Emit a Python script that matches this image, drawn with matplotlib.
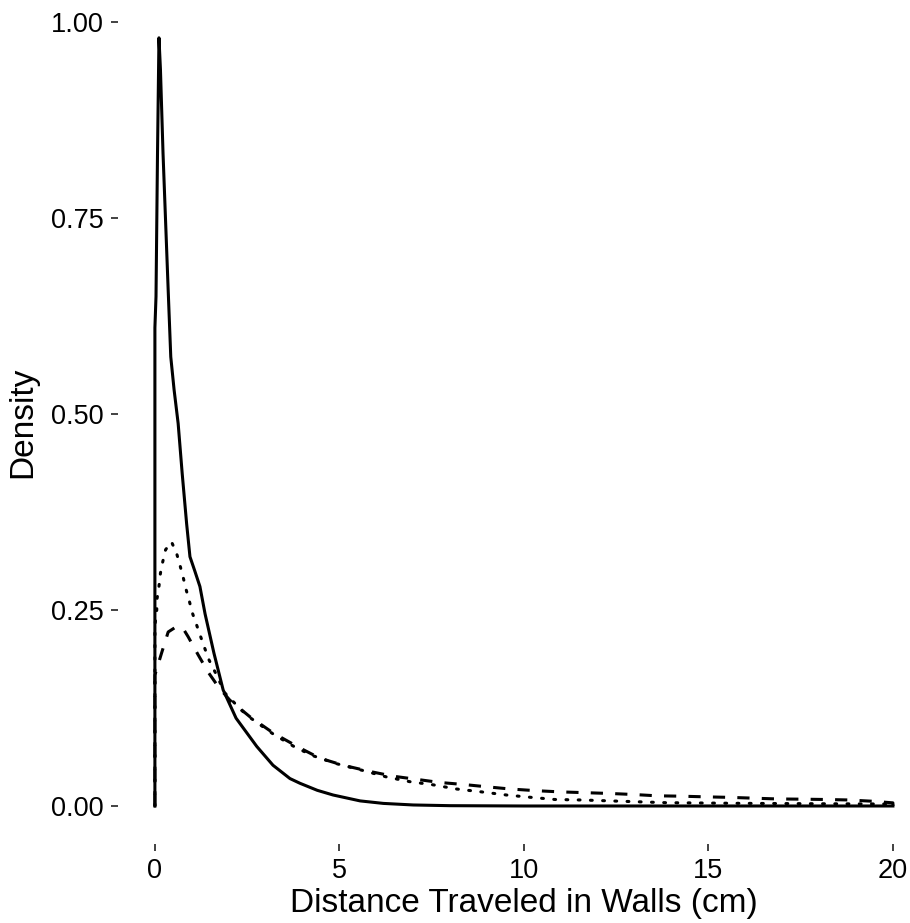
import numpy as np
import matplotlib
matplotlib.use('Agg')
import matplotlib.pyplot as plt

plt.rcParams['font.family'] = ['Liberation Sans', 'DejaVu Sans']

# density curves
x_solid = [0.00, 0.03, 0.07, 0.11, 0.15, 0.22, 0.36, 0.43, 0.52, 0.63, 0.74, 0.86,
           0.95, 1.08, 1.22, 1.36, 1.60, 1.85, 2.20, 2.76, 3.20, 3.66, 3.93, 4.40,
           4.83, 5.56, 6.19, 7.00, 8.00, 10.0, 20.0]
y_solid = [0.61, 0.65, 0.83, 0.98, 0.94, 0.833, 0.658, 0.573, 0.531, 0.488, 0.424, 0.36,
           0.318, 0.30, 0.28, 0.245, 0.195, 0.148, 0.112, 0.076, 0.052, 0.035, 0.029, 0.020,
           0.014, 0.0065, 0.0033, 0.0013, 0.0004, 0.0, 0.0]

x_dot = [0.00, 0.05, 0.06, 0.11, 0.15, 0.21, 0.29, 0.45, 0.59, 0.68, 0.77, 0.84,
         0.93, 1.01, 1.13, 1.24, 1.36, 1.47, 1.63, 1.90, 2.35, 2.60, 3.20, 3.80,
         4.29, 4.92, 5.66, 6.28, 6.91, 7.54, 8.17, 8.85, 9.53, 10.2, 10.84, 11.52,
         11.88, 13.86, 15.85, 17.84, 20.0]
y_dot = [0.23, 0.25, 0.265, 0.28, 0.297, 0.311, 0.327, 0.337, 0.322, 0.307, 0.291, 0.277,
         0.262, 0.247, 0.231, 0.216, 0.20, 0.186, 0.171, 0.144, 0.122, 0.112, 0.092, 0.075,
         0.064, 0.054, 0.045, 0.037, 0.031, 0.027, 0.0217, 0.018, 0.014, 0.011, 0.0083, 0.0077,
         0.0072, 0.0042, 0.0034, 0.0029, 0.0025]

x_dash = [0.00, 0.18, 0.36, 0.59, 0.77, 0.90, 1.17, 1.44, 1.72, 2.03, 2.57, 3.21,
          3.93, 4.47, 5.10, 5.83, 6.46, 7.09, 7.72, 8.35, 8.99, 9.62, 10.34, 10.98,
          11.65, 12.31, 12.96, 13.60, 14.27, 14.90, 15.58, 16.21, 16.85, 17.52, 18.16,
          18.79, 19.47, 20.0]
y_dash = [0.167, 0.195, 0.222, 0.229, 0.226, 0.216, 0.193, 0.171, 0.152, 0.135, 0.114, 0.093,
          0.074, 0.061, 0.052, 0.044, 0.038, 0.034, 0.030, 0.0275, 0.0245, 0.0217, 0.0195, 0.018,
          0.017, 0.016, 0.0147, 0.013, 0.0125, 0.0117, 0.011, 0.010, 0.009, 0.0087, 0.0083,
          0.0077, 0.006, 0.004]

x_ticks = [0, 5, 10, 15, 20]
y_ticks = [0.0, 0.25, 0.5, 0.75, 1.0]
y_ticklabels = ['0.00', '0.25', '0.50', '0.75', '1.00']

fig = plt.figure(figsize=(9.1, 9.23), dpi=100)
ax = fig.add_axes([118/910, 78.6/923, 811.8/910, 845/923])

def outline(x, y, **kw):
    # closed density outline, like geom_density with no fill
    x = np.r_[x[0], x, x[-1]]
    y = np.r_[0, y, 0]
    ax.plot(x, y, color='black', lw=2.2, solid_joinstyle='round', **kw)

outline(x_solid, y_solid, ls='-')
outline(x_dot, y_dot, ls=(0, (0.6, 3.4)), dash_capstyle='round')
outline(x_dash, y_dash, ls=(0, (4, 4)))

ymax = max(y_solid)
ax.set_xlim(-1, 21)
ax.set_ylim(-0.05*ymax, 1.05*ymax)
ax.set_xticks(x_ticks)
ax.set_yticks(y_ticks)
ax.set_yticklabels(y_ticklabels)
for s in ax.spines.values():
    s.set_visible(False)
ax.tick_params(length=5, width=1.3, color='#333333', labelsize=19.5, labelcolor='black', pad=5)
ax.set_xlabel('Distance Traveled in Walls (cm)', fontsize=24, labelpad=3)
ax.set_ylabel('Density', fontsize=24, labelpad=9)

plt.savefig('out.png', dpi=100)
